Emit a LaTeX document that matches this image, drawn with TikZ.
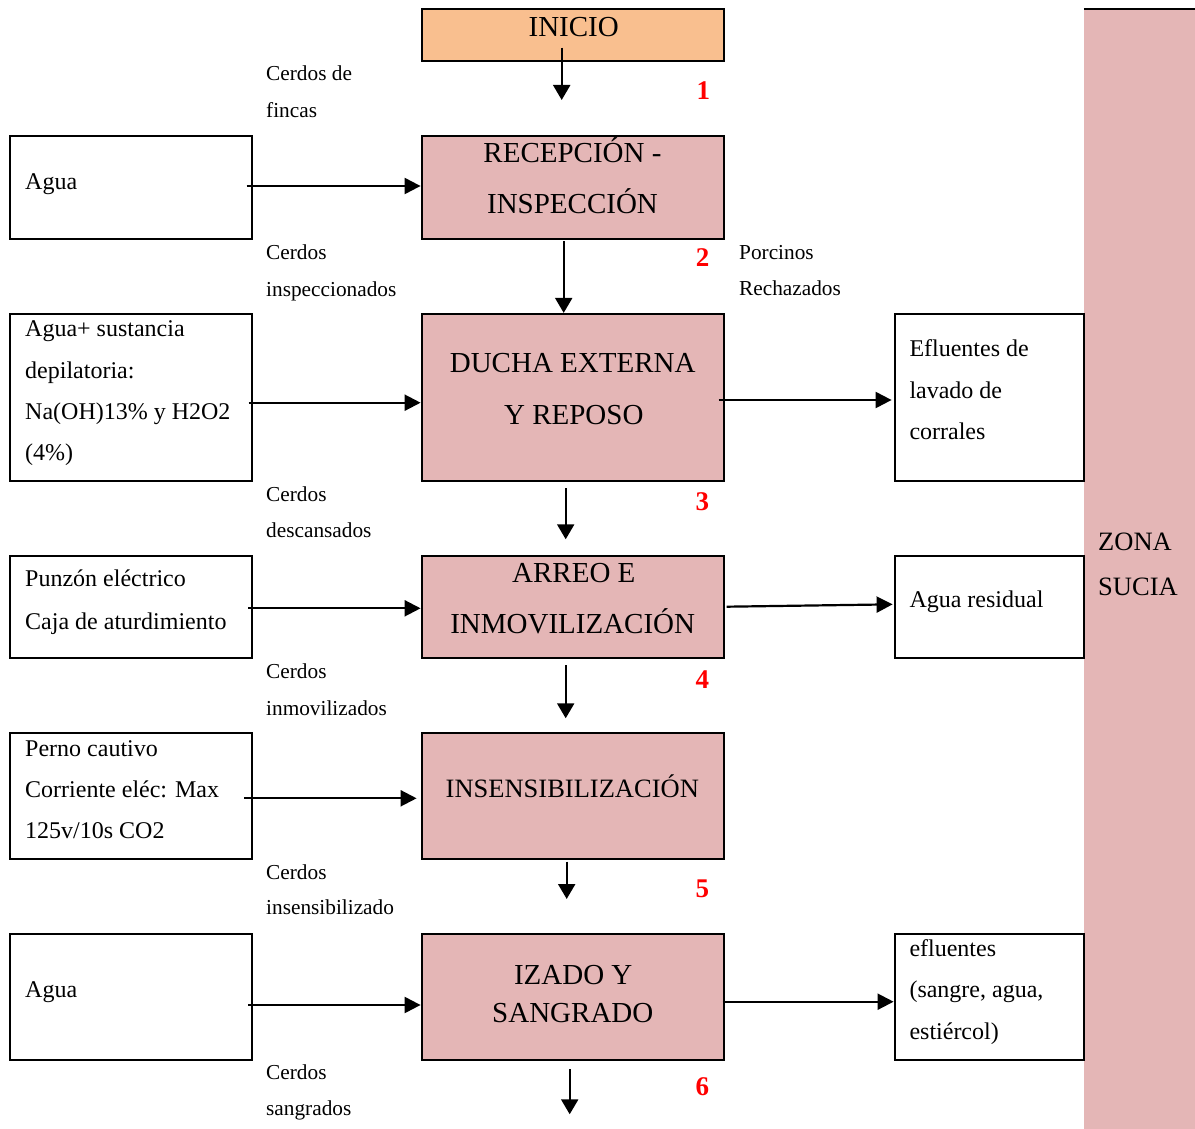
\documentclass[tikz,border=0pt]{standalone}
\usepackage{fontspec}
\setmainfont{Liberation Serif}
\usetikzlibrary{arrows.meta}
\definecolor{stagepink}{RGB}{228,182,182}
\definecolor{startorange}{RGB}{249,191,143}
\tikzset{
  stagebox/.style={draw, line width=2.2pt, fill=stagepink, inner sep=0pt, minimum width=302.3pt},
  inbox/.style={draw, line width=2.2pt, fill=white, inner sep=0pt, minimum width=242.3pt},
  outbox/.style={draw, line width=2.2pt, fill=white, inner sep=0pt, minimum width=189.3pt},
  flow/.style={line width=2.2pt, -{Triangle[length=16pt,width=16pt]}},
  downflow/.style={line width=2.2pt, -{Triangle[length=15pt,width=17pt]}},
  bigtxt/.style={font=\fontsize{29}{35}\selectfont, inner sep=0pt, anchor=base},
  midtxt/.style={font=\fontsize{24}{29}\selectfont, inner sep=0pt, anchor=base west},
  smalltxt/.style={font=\fontsize{21.3}{26}\selectfont, inner sep=0pt, anchor=base west},
  stepnum/.style={font=\fontsize{27}{32}\selectfont\bfseries, text=red, inner sep=0pt, anchor=base},
  zonetxt/.style={font=\fontsize{26.5}{32}\selectfont, inner sep=0pt, anchor=base west},
}
\begin{document}
\begin{tikzpicture}[x=1pt,y=-1pt]
\useasboundingbox (0,0) rectangle (1195,1129);

% dirty-zone band on the right
\node[fill=stagepink, inner sep=0pt, minimum width=111pt, minimum height=1120pt] (zona) at (1139.5,569) {};
\draw[line width=2.2pt] (zona.north west) -- (zona.north east);
\node[zonetxt] (zona1) at (1098,550) {ZONA};
\node[zonetxt] (zona2) at (1098,595.3) {SUCIA};

% process stages
\node[stagebox, fill=startorange, minimum height=52pt] (inicio) at (572.85,35) {};
\node[stagebox, minimum height=102.7pt] (rec) at (572.85,187.35) {};
\node[stagebox, minimum height=167pt] (ducha) at (572.85,397.5) {};
\node[stagebox, minimum height=101.7pt] (arreo) at (572.85,606.85) {};
\node[stagebox, minimum height=126pt] (insens) at (572.85,796) {};
\node[stagebox, minimum height=125.4pt] (izado) at (572.85,997) {};

\node[bigtxt] (tinicio) at (573.7,36.7) {INICIO};
\node[bigtxt] (trec1) at (572.5,162.7) {RECEPCIÓN -};
\node[bigtxt] (trec2) at (572.5,213.3) {INSPECCIÓN};
\node[bigtxt] (tducha1) at (572.7,372.7) {DUCHA EXTERNA};
\node[bigtxt] (tducha2) at (573.8,424) {Y REPOSO};
\node[bigtxt] (tarreo1) at (573.8,582.7) {ARREO E};
\node[bigtxt] (tarreo2) at (572.7,633.3) {INMOVILIZACIÓN};
\node[bigtxt, font=\fontsize{26.5}{32}\selectfont] (tinsens) at (572.3,797.3) {INSENSIBILIZACIÓN};
\node[bigtxt] (tizado1) at (573.2,984) {IZADO Y};
\node[bigtxt] (tizado2) at (572.8,1022.7) {SANGRADO};

% inputs
\node[inbox, minimum height=102.7pt] (in1) at (130.85,187.35) {};
\node[inbox, minimum height=167pt] (in2) at (130.85,397.5) {};
\node[inbox, minimum height=101.7pt] (in3) at (130.85,606.85) {};
\node[inbox, minimum height=125.7pt] (in4) at (130.85,795.85) {};
\node[inbox, minimum height=126pt] (in5) at (130.85,997) {};

\node[midtxt] (tin1) at (25,189.3) {Agua};
\node[midtxt] (tin2a) at (25,336) {Agua+ sustancia};
\node[midtxt] (tin2b) at (25,378.3) {depilatoria:};
\node[midtxt] (tin2c) at (25,419) {Na(OH)13\% y H2O2};
\node[midtxt] (tin2d) at (25,460.5) {(4\%)};
\node[midtxt] (tin3a) at (25,586.7) {Punzón eléctrico};
\node[midtxt] (tin3b) at (25,629.3) {Caja de aturdimiento};
\node[midtxt] (tin4a) at (25,756) {Perno cautivo};
\node[midtxt] (tin4b) at (25,797.3) {Corriente eléc: Max};
\node[midtxt] (tin4c) at (25,838.7) {125v/10s CO2};
\node[midtxt] (tin5) at (25,997.3) {Agua};

% outputs
\node[outbox, minimum height=167pt] (out1) at (989.35,397.5) {};
\node[outbox, minimum height=101.7pt] (out2) at (989.35,606.85) {};
\node[outbox, minimum height=125.4pt] (out3) at (989.35,997) {};

\node[midtxt] (tout1a) at (909.3,356.7) {Efluentes de};
\node[midtxt] (tout1b) at (909.3,398.3) {lavado de};
\node[midtxt] (tout1c) at (909.3,439.3) {corrales};
\node[midtxt] (tout2) at (909.3,607.3) {Agua residual};
\node[midtxt] (tout3a) at (909.3,956) {efluentes};
\node[midtxt] (tout3b) at (909.3,997.7) {(sangre, agua,};
\node[midtxt] (tout3c) at (909.3,1039.3) {estiércol)};

% flow labels
\node[smalltxt] (l1a) at (266,81) {Cerdos de};
\node[smalltxt] (l1b) at (266,118) {fincas};
\node[smalltxt] (l2a) at (266,259) {Cerdos};
\node[smalltxt] (l2b) at (266,296) {inspeccionados};
\node[smalltxt] (l3a) at (266,501) {Cerdos};
\node[smalltxt] (l3b) at (266,537) {descansados};
\node[smalltxt] (l4a) at (266,678) {Cerdos};
\node[smalltxt] (l4b) at (266,715) {inmovilizados};
\node[smalltxt] (l5a) at (266,879.3) {Cerdos};
\node[smalltxt] (l5b) at (266,914.5) {insensibilizado};
\node[smalltxt] (l6a) at (266,1079) {Cerdos};
\node[smalltxt] (l6b) at (266,1115) {sangrados};
\node[smalltxt] (rej1) at (739,259.3) {Porcinos};
\node[smalltxt] (rej2) at (739,295.7) {Rechazados};

% step numbers
\node[stepnum] (n1) at (703.3,99.3) {1};
\node[stepnum] (n2) at (702.5,266) {2};
\node[stepnum] (n3) at (702.3,510) {3};
\node[stepnum] (n4) at (702.3,688.3) {4};
\node[stepnum] (n5) at (702.3,897.3) {5};
\node[stepnum] (n6) at (702.3,1095) {6};

% vertical flow arrows
\coordinate (v1s) at (561.7,47.7);  \coordinate (v1e) at (561.7,100);
\coordinate (v2s) at (563.7,241);
\coordinate (v3s) at (565.7,488.3); \coordinate (v3e) at (565.7,539.3);
\coordinate (v4s) at (565.7,665);   \coordinate (v4e) at (565.7,718.3);
\coordinate (v5s) at (566.7,861.7); \coordinate (v5e) at (566.7,899);
\coordinate (v6s) at (569.7,1069.3);\coordinate (v6e) at (569.7,1114.3);
\draw[downflow] (v1s) -- (v1e);
\draw[downflow] (v2s) -- (v2s |- ducha.north);
\draw[downflow] (v3s) -- (v3e);
\draw[downflow] (v4s) -- (v4e);
\draw[downflow] (v5s) -- (v5e);
\draw[downflow] (v6s) -- (v6e);

% input arrows
\coordinate (h1) at (246.7,186);
\coordinate (h2) at (248.7,402.7);
\coordinate (h3) at (248,608.3);
\coordinate (h4) at (244.3,798.3);
\coordinate (h5) at (248.3,1005);
\draw[flow] (h1) -- (h1 -| rec.west);
\draw[flow] (h2) -- (h2 -| ducha.west);
\draw[flow] (h3) -- (h3 -| arreo.west);
\draw[flow] (h4) -- ([xshift=-4pt]h4 -| insens.west);
\draw[flow] (h5) -- (h5 -| izado.west);

% output arrows
\coordinate (r1) at (718.7,400);
\coordinate (r2) at (726.7,606.7);
\coordinate (r3) at (722.7,1001.7);
\draw[flow] (r1) -- ([xshift=-2pt]r1 -| out1.west);
\draw[flow] (r2) -- ([xshift=-1pt,yshift=2.5pt]out2.west);
\draw[flow] (r3) -- (r3 -| out3.west);
\end{tikzpicture}
\end{document}
